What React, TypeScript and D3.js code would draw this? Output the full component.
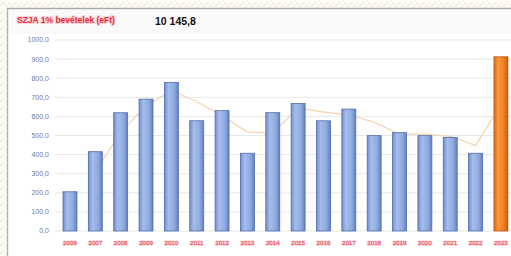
import React from 'react';
import * as d3 from 'd3';

const years = ['2006', '2007', '2008', '2009', '2010', '2011', '2012', '2013', '2014',
  '2015', '2016', '2017', '2018', '2019', '2020', '2021', '2022', '2023'];
const income = [205.3, 415.2, 619.0, 690.4, 778.1, 577.3, 630.2, 407.1, 619.4,
  668.0, 577.0, 638.2, 499.3, 515.0, 499.1, 490.2, 407.0, 912.0];
// moving-average trend line (starts at 2007)
const trendYears = years.slice(1);
const trend = [310, 517, 655, 735, 678, 603, 518, 513, 643, 623, 608, 569, 507, 507, 495, 448, 660];
const yTicks = [0, 100, 200, 300, 400, 500, 600, 700, 800, 900, 1000];
const yTickLabels = ['0,0', '100,0', '200,0', '300,0', '400,0', '500,0', '600,0', '700,0', '800,0', '900,0', '1000,0'];
const title = 'SZJA 1% bevételek (eFt)';
const total = '10 145,8';

const W = 511;
const H = 256;

const App = () => {
  const x = d3.scaleBand<string>()
    .domain(years)
    .range([57.3, 513.6])
    .paddingInner(0.45)
    .paddingOuter(0.225);

  const y = d3.scaleLinear().domain([0, 1000]).range([231, 40]);

  const line = d3.line<number>()
    .x((_, i) => (x(trendYears[i]) ?? 0) + x.bandwidth() / 2)
    .y((d) => y(d));

  return (
    <div style={{ position: 'absolute', left: 0, top: 0 }}>
      <svg width={W} height={H} style={{ display: 'block', fontFamily: 'Liberation Sans, Arial, sans-serif' }}>
        <defs>
          <pattern id="bgpat" width="12" height="8" patternUnits="userSpaceOnUse">
            <rect width="12" height="8" fill="#fdfcf7" />
            <path d="M0,6 L3,3 L6,6 L9,3 L12,6" fill="none" stroke="#ece7d4" strokeWidth="1.4" strokeDasharray="2 2" />
          </pattern>
          <linearGradient id="blue" x1="0" x2="1" y1="0" y2="0">
            <stop offset="0" stopColor="#7090cf" />
            <stop offset="0.3" stopColor="#a6bdea" />
            <stop offset="0.7" stopColor="#8fabe0" />
            <stop offset="1" stopColor="#6282c2" />
          </linearGradient>
          <linearGradient id="orange" x1="0" x2="1" y1="0" y2="0">
            <stop offset="0" stopColor="#dd6a14" />
            <stop offset="0.3" stopColor="#fa953c" />
            <stop offset="0.7" stopColor="#f07f22" />
            <stop offset="1" stopColor="#c55c0e" />
          </linearGradient>
        </defs>

        <rect width={W} height={H} fill="url(#bgpat)" />
        <rect x={7} y={8} width={W - 7} height={H - 8} fill="#ffffff" />
        <rect x={9} y={10} width={W - 9} height={24} fill="#f9f9f9" />
        <line x1={7} x2={W} y1={8.5} y2={8.5} stroke="#a9a9a9" strokeWidth={1.5} />
        <line x1={7.5} x2={7.5} y1={8} y2={H} stroke="#b4b4b4" strokeWidth={1.5} />

        <text x={17} y={23} fontSize={8.5} fontWeight="bold" fill="#e0303a"
          stroke="#fbd3d9" strokeWidth={2} style={{ paintOrder: 'stroke' }}>{title}</text>
        <text x={155} y={24.5} fontSize={10.5} fontWeight="bold" fill="#111">{total}</text>

        {yTicks.map((t, i) => (
          <g key={t}>
            <line x1={55} x2={W} y1={y(t)} y2={y(t)} stroke="#e8e8e8" strokeWidth={1} />
            <text x={49} y={y(t) + 2.4} fontSize={7} textAnchor="end" fill="#6f7a96">{yTickLabels[i]}</text>
          </g>
        ))}

        <path d={line(trend) ?? ''} fill="none" stroke="#f6d4b6" strokeWidth={1.3} />

        {years.map((yr, i) => (
          <rect key={yr}
            x={x(yr)}
            y={y(income[i])}
            width={x.bandwidth()}
            height={y(0) - y(income[i])}
            fill={i === years.length - 1 ? 'url(#orange)' : 'url(#blue)'}
            stroke={i === years.length - 1 ? '#b85510' : '#4f6ca8'}
            strokeWidth={0.8} />
        ))}

        {years.map((yr) => (
          <text key={yr} x={(x(yr) ?? 0) + x.bandwidth() / 2} y={245} fontSize={6.2} textAnchor="middle"
            fill="#e0303a" stroke="#fbd3d9" strokeWidth={1.4} style={{ paintOrder: 'stroke' }}>{yr}</text>
        ))}
      </svg>
    </div>
  );
};

export default App;
